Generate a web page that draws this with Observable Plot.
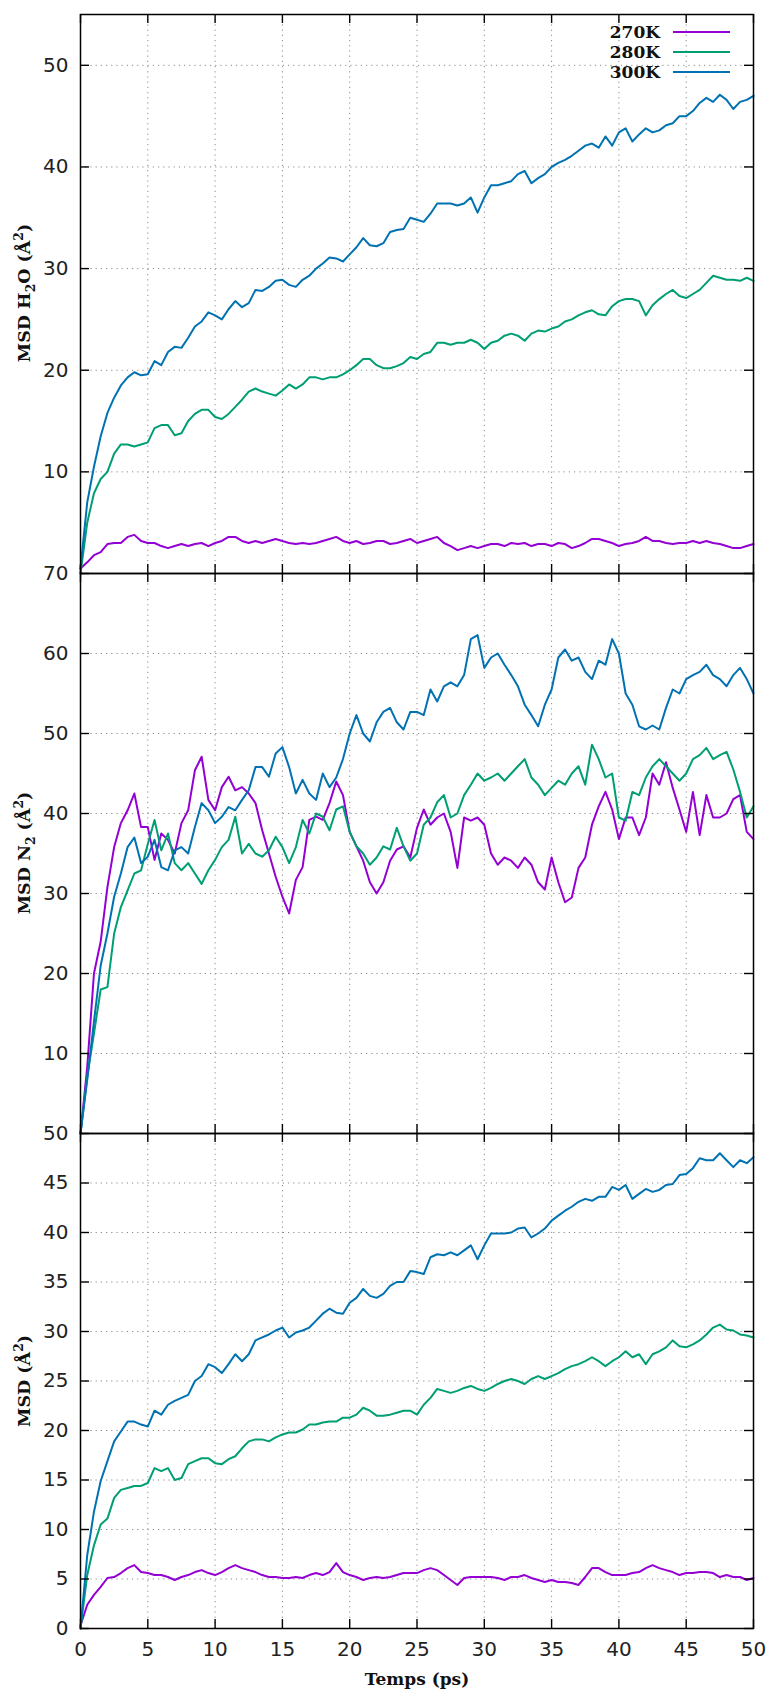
<!DOCTYPE html>
<html><head><meta charset="utf-8">
<script src="https://cdn.jsdelivr.net/npm/d3@7"></script>
<script src="https://cdn.jsdelivr.net/npm/@observablehq/plot@0.6"></script>
<style>
body{margin:0;background:#fff;}
#chart{position:relative;width:770px;height:1693px;background:#fff;}
#chart svg{position:absolute;left:0;overflow:visible;}
.lab{position:absolute;font-family:"DejaVu Serif";font-weight:bold;font-size:17.5px;white-space:nowrap;color:#111;line-height:1;}
.ylab{transform:translate(-50%,-50%) rotate(-90deg);}
.xlab{font-size:17px;transform:translate(-50%,-50%);}
.lab sub,.lab sup{font-size:0.7em;line-height:0;}
.leg{position:absolute;font-family:"DejaVu Serif";font-weight:bold;font-size:17px;color:#111;line-height:1;transform:translate(-100%,-50%);}
.legline{position:absolute;height:2px;}
</style></head>
<body><div id="chart"></div>
<script>
// sample times (ps), every 0.5 ps
const time = d3.range(0, 101).map(i => i / 2);
const series = ["270K", "280K", "300K"];
const colors = ["#9400d3", "#009e73", "#0072b2"];
const xTicks = [0, 5, 10, 15, 20, 25, 30, 35, 40, 45, 50];

// Panel 1: MSD H2O
const h2o270 = [0.5,1.1,1.8,2.1,2.9,3.0,3.0,3.6,3.8,3.2, 3.0,3.0,2.7,2.5,2.7,2.9,2.7,2.9,3.0,2.7,
 3.0,3.2,3.6,3.6,3.2,3.0,3.2,3.0,3.2,3.4, 3.2,3.0,2.9,3.0,2.9,3.0,3.2,3.4,3.6,3.2,
 3.0,3.2,2.9,3.0,3.2,3.2,2.9,3.0,3.2,3.4, 3.0,3.2,3.4,3.6,3.0,2.7,2.3,2.5,2.7,2.5,
 2.7,2.9,2.9,2.7,3.0,2.9,3.0,2.7,2.9,2.9, 2.7,3.0,2.9,2.5,2.7,3.0,3.4,3.4,3.2,3.0,
 2.7,2.9,3.0,3.2,3.6,3.2,3.2,3.0,2.9,3.0, 3.0,3.2,3.0,3.2,3.0,2.9,2.7,2.5,2.5,2.7, 2.9];
const h2o280 = [0,5.0,7.9,9.3,10.0,11.8,12.7,12.7,12.5,12.7, 12.9,14.3,14.6,14.6,13.6,13.8,15.0,15.7,16.1,16.1,
 15.4,15.2,15.7,16.4,17.1,17.9,18.2,17.9,17.7,17.5, 18.0,18.6,18.2,18.6,19.3,19.3,19.1,19.3,19.3,19.6,
 20.0,20.5,21.1,21.1,20.5,20.2,20.2,20.4,20.7,21.3, 21.1,21.6,21.8,22.7,22.7,22.5,22.7,22.7,23.0,22.7,
 22.1,22.7,22.9,23.4,23.6,23.4,22.9,23.6,23.9,23.8, 24.1,24.3,24.8,25.0,25.4,25.7,25.9,25.5,25.4,26.3,
 26.8,27.0,27.0,26.8,25.4,26.4,27.0,27.5,27.9,27.3, 27.1,27.5,27.9,28.6,29.3,29.1,28.9,28.9,28.8,29.1, 28.8];
const h2o300 = [0.5,7.0,10.5,13.5,15.8,17.3,18.5,19.3,19.8,19.5, 19.6,20.9,20.5,21.8,22.3,22.2,23.2,24.3,24.8,25.7,
 25.4,25.0,26.0,26.8,26.2,26.6,27.9,27.8,28.2,28.8, 28.9,28.4,28.2,28.9,29.3,30.0,30.5,31.1,31.0,30.7,
 31.4,32.1,33.0,32.3,32.2,32.5,33.6,33.8,33.9,35.0, 34.8,34.6,35.4,36.4,36.4,36.4,36.2,36.4,37.0,35.5,
 37.0,38.2,38.2,38.4,38.6,39.3,39.6,38.4,38.9,39.3, 40.0,40.4,40.7,41.1,41.6,42.1,42.3,41.9,43.0,42.1,
 43.4,43.8,42.5,43.2,43.8,43.4,43.6,44.1,44.3,45.0, 45.0,45.5,46.3,46.8,46.4,47.1,46.6,45.7,46.4,46.6, 47.0];

// Panel 2: MSD N2
const n2270 = [0,8.3,20.0,24.0,30.8,35.8,38.8,40.4,42.5,38.3, 38.3,34.2,37.5,36.7,35.0,38.8,40.4,45.4,47.1,41.7,
 40.4,43.3,44.6,42.9,43.3,42.5,41.3,37.9,35.0,32.1, 29.6,27.5,31.7,33.3,39.2,39.6,39.2,41.3,44.0,42.3,
 37.7,35.9,34.1,31.4,30.0,31.4,34.1,35.5,35.9,34.5, 38.2,40.5,38.6,39.5,40.0,37.7,33.2,39.5,39.1,39.5,
 38.6,35.0,33.6,34.5,34.1,33.2,34.5,33.6,31.4,30.5, 34.5,31.4,28.9,29.5,33.2,34.5,38.6,40.9,42.7,40.5,
 36.8,39.5,39.5,37.3,39.5,45.0,43.6,46.4,43.2,40.5, 37.7,42.7,37.3,42.3,39.5,39.5,40.0,41.8,42.3,37.7, 36.8];
const n2280 = [0,7.1,12.5,18.0,18.3,25.0,28.3,30.4,32.5,32.9, 36.2,39.2,35.4,37.5,33.8,32.9,33.8,32.5,31.2,32.9,
 34.2,35.8,36.7,39.6,35.0,36.2,35.0,34.6,35.4,37.1, 35.8,33.8,35.8,39.2,37.5,40.0,39.6,37.9,40.5,40.9,
 37.7,35.9,35.0,33.6,34.5,35.9,35.5,38.2,35.9,34.1, 35.0,38.6,39.5,41.4,42.3,39.5,40.0,42.3,43.6,45.0,
 44.1,44.5,45.0,44.1,45.0,45.9,46.8,44.5,43.6,42.3, 43.2,44.1,43.6,45.0,45.9,43.6,48.6,46.8,44.5,45.0,
 39.5,39.1,42.7,42.3,44.5,45.9,46.8,45.9,45.0,44.1, 45.0,46.8,47.3,48.2,46.8,47.3,47.7,45.5,42.7,39.5, 40.9];
const n2300 = [0,6.7,14.0,21.0,25.0,29.6,32.5,35.8,37.0,33.8, 34.6,36.7,33.3,32.9,35.4,35.8,35.0,38.3,41.3,40.4,
 38.8,39.6,40.8,40.4,41.7,42.9,45.8,45.8,44.6,47.5, 48.3,45.8,42.5,44.2,42.5,41.7,45.0,43.3,44.5,46.8,
 50.0,52.3,50.0,49.0,51.4,52.7,53.2,51.4,50.5,52.7, 52.7,52.3,55.5,54.0,55.9,56.4,55.9,57.3,61.8,62.3,
 58.2,59.5,60.0,58.6,57.3,55.9,53.6,52.3,50.9,53.6, 55.5,59.5,60.5,59.1,59.5,57.7,56.8,59.1,58.6,61.8,
 60.0,55.0,53.6,50.9,50.5,51.0,50.5,53.2,55.5,55.0, 56.8,57.3,57.7,58.6,57.3,56.8,55.9,57.3,58.2,56.8, 55.0];

// Panel 3: MSD (all)
const all270 = [0.3,2.4,3.4,4.2,5.1,5.2,5.6,6.1,6.4,5.7, 5.6,5.4,5.4,5.2,4.9,5.2,5.4,5.7,5.9,5.6,
 5.4,5.7,6.1,6.4,6.1,5.9,5.7,5.4,5.2,5.2, 5.1,5.1,5.2,5.1,5.4,5.6,5.4,5.7,6.6,5.7,
 5.4,5.2,4.9,5.1,5.2,5.1,5.2,5.4,5.6,5.6, 5.6,5.9,6.1,5.9,5.4,4.9,4.4,5.1,5.2,5.2,
 5.2,5.2,5.1,4.9,5.2,5.2,5.4,5.1,4.9,4.7, 4.9,4.7,4.7,4.6,4.4,5.2,6.1,6.1,5.7,5.4,
 5.4,5.4,5.6,5.7,6.1,6.4,6.1,5.9,5.7,5.4, 5.6,5.6,5.7,5.7,5.6,5.2,5.4,5.2,5.2,4.9, 5.1];
const all280 = [0,5.4,8.4,10.5,11.1,13.2,14.0,14.2,14.4,14.4, 14.7,16.2,15.9,16.2,15.0,15.2,16.6,16.9,17.2,17.2,
 16.7,16.6,17.1,17.4,18.2,18.9,19.1,19.1,18.9,19.3, 19.6,19.8,19.8,20.1,20.6,20.6,20.8,20.9,20.9,21.3,
 21.3,21.6,22.3,22.0,21.5,21.5,21.6,21.8,22.0,22.0, 21.6,22.6,23.3,24.2,24.0,23.8,24.0,24.3,24.5,24.2,
 24.0,24.3,24.7,25.0,25.2,25.0,24.7,25.2,25.5,25.2, 25.5,25.8,26.2,26.5,26.7,27.0,27.4,27.0,26.5,27.0,
 27.4,28.0,27.4,27.7,26.7,27.7,28.0,28.4,29.1,28.5, 28.4,28.7,29.1,29.7,30.4,30.7,30.2,30.1,29.7,29.6, 29.4];
const all300 = [0,7.4,11.8,14.9,16.9,18.9,19.9,20.9,20.9,20.6, 20.4,22.0,21.6,22.6,23.0,23.3,23.6,25.0,25.5,26.7,
 26.4,25.8,26.7,27.7,27.0,27.7,29.1,29.4,29.7,30.1, 30.4,29.4,29.9,30.1,30.4,31.1,31.8,32.3,31.9,31.8,
 32.9,33.4,34.3,33.6,33.4,33.8,34.6,35.0,35.0,36.1, 36.0,35.8,37.5,37.8,37.7,38.0,37.7,38.2,38.7,37.3,
 38.7,39.9,39.9,39.9,40.0,40.4,40.5,39.5,39.9,40.4, 41.2,41.7,42.2,42.6,43.1,43.4,43.2,43.6,43.6,44.6,
 44.3,44.8,43.4,43.9,44.4,44.1,44.3,44.8,44.9,45.8, 45.9,46.5,47.5,47.3,47.3,48.0,47.3,46.6,47.3,47.0, 47.6];

const toRows = arrs => arrs.flatMap((a, k) => a.map((v, i) => ({t: time[i], v, s: series[k]})));

const W = 770, ML = 80, MR = 17;
const gridStyle = {stroke: "#8a8a8a", strokeOpacity: 1, strokeWidth: 1, strokeDasharray: "1.2,4"};
const tickStyle = {stroke: "#000", strokeWidth: 1.4};

function panel({rows, yDomain, yTicks, yGrid, height, marginTop, marginBottom, xLabels}) {
  const ph = height - marginTop - marginBottom;
  const pw = W - ML - MR;
  const xGrid = xTicks.slice(1, -1);
  const marks = [
    Plot.gridX(xGrid, gridStyle),
    Plot.gridY(yGrid, gridStyle),
    Plot.line(rows, {x: "t", y: "v", z: "s", stroke: "s", strokeWidth: 2}),
    Plot.tickY(yTicks, {y: d => d, insetRight: pw - 9, ...tickStyle}),
    Plot.tickY(yTicks, {y: d => d, insetLeft: pw - 9, ...tickStyle}),
    Plot.tickX(xTicks, {x: d => d, insetBottom: ph - 9, ...tickStyle}),
    Plot.tickX(xTicks, {x: d => d, insetTop: ph - 9, ...tickStyle}),
    Plot.axisY(yTicks, {tickSize: 0, tickPadding: 12, label: null, fill: "#222"}),
    Plot.frame({stroke: "#000", strokeWidth: 1.5})
  ];
  if (xLabels) marks.push(Plot.axisX(xTicks, {tickSize: 0, tickPadding: 13, label: null, fill: "#222"}));
  return Plot.plot({
    width: W, height, marginLeft: ML, marginRight: MR, marginTop, marginBottom,
    style: {fontFamily: "DejaVu Sans", fontSize: "20px", color: "#222", background: "transparent", overflow: "visible"},
    x: {domain: [0, 50], axis: xLabels ? undefined : null},
    y: {domain: yDomain},
    color: {domain: series, range: colors},
    marks
  });
}

const chart = document.getElementById("chart");
const p1 = panel({rows: toRows([h2o270, h2o280, h2o300]), yDomain: [0, 55],
  yTicks: [10, 20, 30, 40, 50], yGrid: [10, 20, 30, 40, 50], height: 573, marginTop: 14, marginBottom: 0});
const p2 = panel({rows: toRows([n2270, n2280, n2300]), yDomain: [0, 70],
  yTicks: [10, 20, 30, 40, 50, 60, 70], yGrid: [10, 20, 30, 40, 50, 60], height: 560, marginTop: 0, marginBottom: 0});
const p3 = panel({rows: toRows([all270, all280, all300]), yDomain: [0, 50],
  yTicks: [0, 5, 10, 15, 20, 25, 30, 35, 40, 45, 50], yGrid: [5, 10, 15, 20, 25, 30, 35, 40, 45], height: 560, marginTop: 0, marginBottom: 65, xLabels: true});
p1.style.top = "0px"; p2.style.top = "573px"; p3.style.top = "1133px";
chart.append(p1, p2, p3);

function addLabel(html, cls, x, y) {
  const d = document.createElement("div");
  d.className = cls; d.innerHTML = html;
  d.style.left = x + "px"; d.style.top = y + "px";
  chart.append(d);
  return d;
}
addLabel("MSD H<sub>2</sub>O (Å<sup>2</sup>)", "lab ylab", 25, 293);
addLabel("MSD N<sub>2</sub> (Å<sup>2</sup>)", "lab ylab", 25, 853);
addLabel("MSD (Å<sup>2</sup>)", "lab ylab", 25, 1381);
addLabel("Temps (ps)", "lab xlab", 417, 1679);

// legend
series.forEach((s, i) => {
  const y = 32 + 20 * i;
  addLabel(s, "leg", 660, y);
  const l = document.createElement("div");
  l.className = "legline";
  l.style.left = "673px"; l.style.width = "57px"; l.style.top = (y - 1) + "px";
  l.style.background = colors[i];
  chart.append(l);
});
</script>
</body></html>
